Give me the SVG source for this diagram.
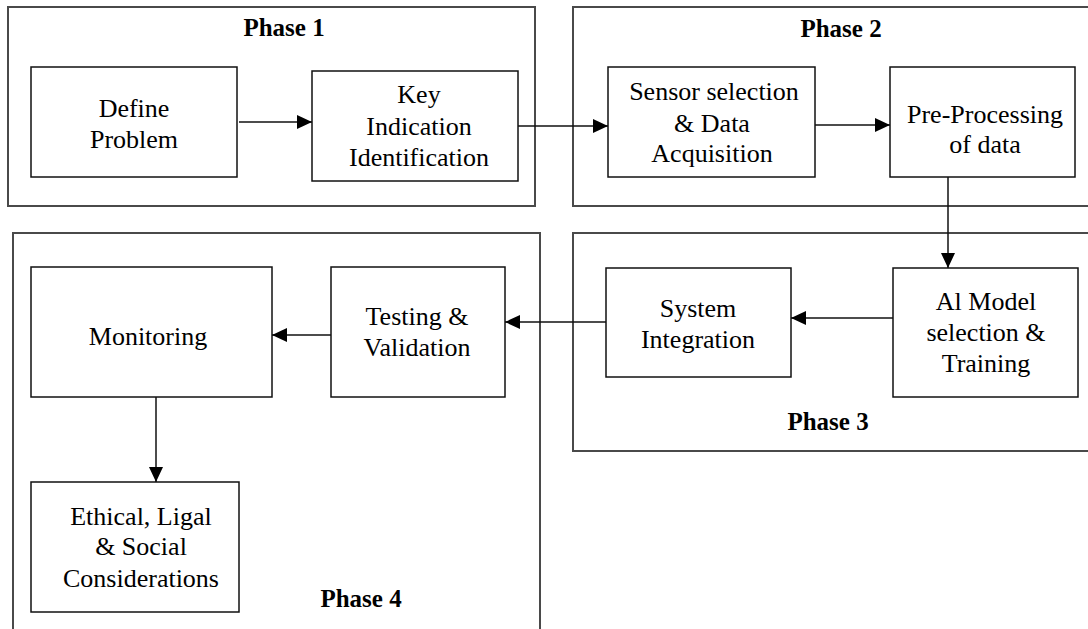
<svg xmlns="http://www.w3.org/2000/svg" width="1088" height="629" viewBox="0 0 1088 629">
<style>
.phase{fill:none;stroke:#4a4a4a;stroke-width:2}
.node{fill:#fff;stroke:#111;stroke-width:1.5}
.t{font-family:"Liberation Serif","Times New Roman",serif;font-size:26px;fill:#000;text-anchor:middle}
.ph{font-family:"Liberation Serif","Times New Roman",serif;font-size:25px;font-weight:bold;fill:#000;text-anchor:middle}
.c{fill:none;stroke:#111;stroke-width:1.5}
</style>
<defs>
<marker id="ah" markerWidth="15" markerHeight="14" refX="15" refY="7" orient="auto" markerUnits="userSpaceOnUse">
<path d="M0,0 L15,7 L0,14 Z" fill="#000"/>
</marker>
</defs>
<rect width="1088" height="629" fill="#fff"/>
<g id="phase1">
<rect class="phase" x="8" y="7" width="527" height="199"/>
<text class="ph" x="284" y="36">Phase 1</text>
</g>
<g id="phase2">
<rect class="phase" x="573" y="7" width="525" height="199"/>
<text class="ph" x="841" y="37">Phase 2</text>
</g>
<g id="phase3">
<rect class="phase" x="573" y="233" width="525" height="218"/>
<text class="ph" x="828" y="430">Phase 3</text>
</g>
<g id="phase4">
<rect class="phase" x="13" y="233" width="527" height="410"/>
<text class="ph" x="361" y="607">Phase 4</text>
</g>
<g id="define">
<rect class="node" x="31" y="67" width="206" height="110"/>
<text class="t" x="134" y="117">Define</text>
<text class="t" x="134" y="148">Problem</text>
</g>
<g id="key">
<rect class="node" x="312" y="71" width="206" height="110"/>
<text class="t" x="419" y="103">Key</text>
<text class="t" x="419" y="135">Indication</text>
<text class="t" x="419" y="166">Identification</text>
</g>
<g id="sensor">
<rect class="node" x="608" y="67" width="207" height="110"/>
<text class="t" x="714" y="100">Sensor selection</text>
<text class="t" x="712" y="132">&amp; Data</text>
<text class="t" x="712" y="162">Acquisition</text>
</g>
<g id="preprocessing">
<rect class="node" x="890" y="67" width="185" height="110"/>
<text class="t" x="985" y="123">Pre-Processing</text>
<text class="t" x="985" y="153">of data</text>
</g>
<g id="aimodel">
<rect class="node" x="893" y="268" width="185" height="129"/>
<text class="t" x="986" y="310">Al Model</text>
<text class="t" x="986" y="341">selection &amp;</text>
<text class="t" x="986" y="372">Training</text>
</g>
<g id="integration">
<rect class="node" x="606" y="268" width="185" height="109"/>
<text class="t" x="698" y="317">System</text>
<text class="t" x="698" y="348">Integration</text>
</g>
<g id="testing">
<rect class="node" x="331" y="267" width="174" height="130"/>
<text class="t" x="417" y="325">Testing &amp;</text>
<text class="t" x="417" y="356">Validation</text>
</g>
<g id="monitoring">
<rect class="node" x="31" y="267" width="241" height="130"/>
<text class="t" x="148" y="345">Monitoring</text>
</g>
<g id="ethical">
<rect class="node" x="31" y="482" width="208" height="130"/>
<text class="t" x="141" y="525">Ethical, Ligal</text>
<text class="t" x="141" y="555">&amp; Social</text>
<text class="t" x="141" y="587">Considerations</text>
</g>
<g id="connectors">
<line class="c" x1="239" y1="122" x2="312" y2="122" marker-end="url(#ah)"/>
<line class="c" x1="518" y1="126" x2="608" y2="126" marker-end="url(#ah)"/>
<line class="c" x1="815" y1="125" x2="890" y2="125" marker-end="url(#ah)"/>
<line class="c" x1="948" y1="177" x2="948" y2="268" marker-end="url(#ah)"/>
<line class="c" x1="893" y1="318" x2="791" y2="318" marker-end="url(#ah)"/>
<line class="c" x1="606" y1="322" x2="505" y2="322" marker-end="url(#ah)"/>
<line class="c" x1="331" y1="335" x2="272" y2="335" marker-end="url(#ah)"/>
<line class="c" x1="156" y1="397" x2="156" y2="482" marker-end="url(#ah)"/>
</g>
</svg>
